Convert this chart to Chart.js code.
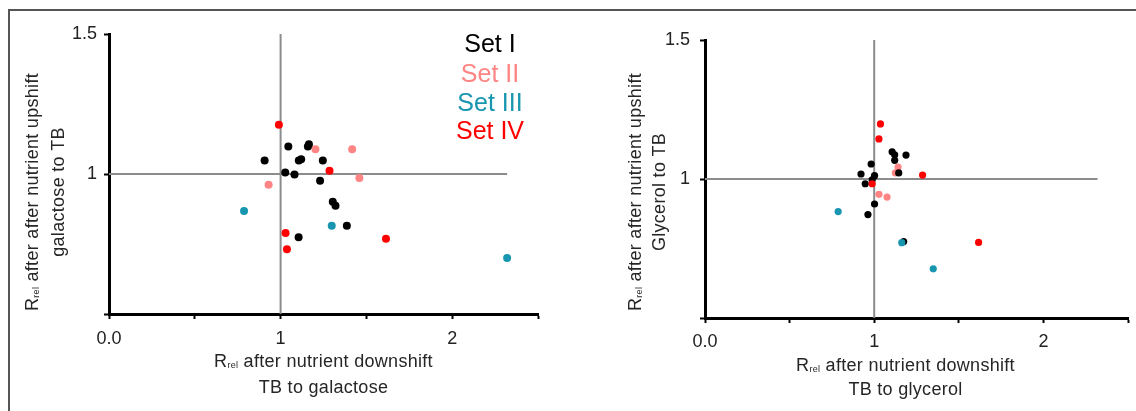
<!DOCTYPE html>
<html lang="en"><head>
<meta charset="utf-8">
<title>Rrel after nutrient shifts</title>
<style>
* { margin: 0; padding: 0 }
body { background: #fff; width: 1136px; height: 411px; overflow: hidden; position: relative; }
#Frame { position: absolute; left: 8px; top: 9px; width: 1140px; height: 410px; border-top: 2px solid #555; border-left: 2px solid #555; }
#GalChart { position: absolute; left: 0; top: 0; }
#GlyChart { position: absolute; left: 570px; top: 0; }
</style>
<script src="https://cdn.jsdelivr.net/npm/chart.js"></script>
<script>

const FONT = "'Liberation Sans', Arial, sans-serif";

const SET_NAMES = ["Set I", "Set II", "Set III", "Set IV"];
const SET_COLORS = ["#000000", "#ff8585", "#1896b0", "#ff0000"];
// draw order, lower is on top
const SET_ORDER = [3, 4, 1, 2];

const xTickValues = [0, 1, 2];
const xTickLabels = ["0.0", "1", "2"];
const yTickValues = [1, 1.5];
const yTickLabels = ["1", "1.5"];

// gray guide lines through 1 on each axis
const GUIDE_VALUE = 1;
const GUIDE_X_END = 2.32;

// TB <-> galactose
const galSetI_x   = [1.045, 1.165, 1.159, 0.907, 1.106, 1.12, 1.246, 1.027, 1.081, 1.23, 1.304, 1.32, 1.386, 1.105];
const galSetI_y   = [1.098, 1.106, 1.098, 1.048, 1.048, 1.053, 1.048, 1.005, 0.998, 0.976, 0.901, 0.887, 0.815, 0.774];
const galSetII_x  = [1.203, 1.417, 1.459, 0.93];
const galSetII_y  = [1.088, 1.088, 0.986, 0.962];
const galSetIII_x = [1.298, 0.787, 2.32];
const galSetIII_y = [0.815, 0.868, 0.70];
const galSetIV_x  = [0.99, 1.285, 1.029, 1.037, 1.614];
const galSetIV_y  = [1.176, 1.012, 0.789, 0.731, 0.769];

// TB <-> glycerol
const glySetI_x   = [1.106, 1.121, 1.121, 1.188, 0.982, 1.145, 0.922, 1.002, 0.988, 0.947, 1.002, 0.963, 1.174];
const glySetI_y   = [1.098, 1.087, 1.067, 1.086, 1.054, 1.022, 1.018, 1.012, 0.997, 0.983, 0.910, 0.872, 0.775];
const glySetII_x  = [1.141, 1.125, 1.028, 1.076];
const glySetII_y  = [1.043, 1.022, 0.945, 0.935];
const glySetIII_x = [0.787, 1.163, 1.349];
const glySetIII_y = [0.883, 0.771, 0.677];
const glySetIV_x  = [1.037, 1.028, 1.286, 0.988, 1.617];
const glySetIV_y  = [1.198, 1.144, 1.014, 0.983, 0.772];

const galXTitle = ["after nutrient downshift", "TB to galactose"];
const galYTitle = ["after after nutrient upshift", "galactose to TB"];
const glyXTitle = ["after nutrient downshift", "TB to glycerol"];
const glyYTitle = ["after after nutrient upshift", "Glycerol to TB"];


function get(id) {
    return document.getElementById(id);
}

function points(xs, ys) {
    return xs.map((x, i) => ({x: x, y: ys[i]}));
}

function tickLabel(val, values, labels) {
    const i = values.indexOf(val);
    return i < 0 ? "" : labels[i];
}

// one title line, centered on x; first line starts with R + subscript "rel"
function drawTitleLine(ctx, text, withRel, x, y) {
    const big = "18px " + FONT;
    const small = "9px " + FONT;
    ctx.letterSpacing = "0.3px";
    ctx.font = big;
    const head = withRel ? "R" : "";
    const rest = withRel ? " " + text : text;
    const wHead = ctx.measureText(head).width;
    const wRest = ctx.measureText(rest).width;
    ctx.font = small;
    const wSub = withRel ? ctx.measureText("rel").width : 0;
    let left = x - (wHead + wSub + wRest) / 2;
    ctx.textAlign = "left";
    if (withRel) {
        ctx.font = big;
        ctx.fillText(head, left, y);
        left += wHead;
        ctx.font = small;
        ctx.fillText("rel", left, y + 1);
        left += wSub;
    }
    ctx.font = big;
    ctx.fillText(rest, left, y);
    ctx.letterSpacing = "0px";
}

const axisTitlePlugin = {
    id: "axisTitles",
    afterDraw(chart, args, opts) {
        const ctx = chart.ctx;
        const area = chart.chartArea;
        ctx.save();
        ctx.fillStyle = "#262626";
        ctx.textBaseline = "alphabetic";
        const cx = (area.left + area.right) / 2 + opts.xShift;
        for (let i = 0; i < opts.xLines.length; i++) {
            drawTitleLine(ctx, opts.xLines[i], i == 0, cx, area.bottom + opts.xBaselines[i]);
        }
        for (let i = 0; i < opts.yLines.length; i++) {
            ctx.save();
            ctx.translate(area.left + opts.yBaselines[i], area.bottom + opts.yCenter);
            ctx.rotate(-Math.PI / 2);
            drawTitleLine(ctx, opts.yLines[i], i == 0, 0, 0);
            ctx.restore();
        }
        ctx.restore();
    }
};

// the "Set I .. Set IV" text key in the top right of the first chart
const setKeyPlugin = {
    id: "setKey",
    afterDraw(chart, args, opts) {
        if (!opts.show) return;
        const ctx = chart.ctx;
        const area = chart.chartArea;
        ctx.save();
        ctx.font = "25px " + FONT;
        ctx.textAlign = "center";
        ctx.textBaseline = "alphabetic";
        for (let i = 0; i < SET_NAMES.length; i++) {
            ctx.fillStyle = SET_COLORS[i];
            ctx.fillText(SET_NAMES[i], area.left + opts.cx, area.top + opts.baselines[i]);
        }
        ctx.restore();
    }
};

function makeDatasets(sets, radius) {
    let ds = [];
    for (let i = 0; i < sets.length; i++) {
        ds.push({
            label: SET_NAMES[i],
            data: points(sets[i][0], sets[i][1]),
            backgroundColor: SET_COLORS[i],
            borderColor: SET_COLORS[i],
            pointRadius: radius,
            pointBorderWidth: 0,
            order: SET_ORDER[i],
        });
    }
    const guide = {
        showLine: true,
        pointRadius: 0,
        borderColor: "#8c8c8c",
        borderWidth: 2,
        order: 10,
    };
    ds.push(Object.assign({label: "v", data: [{x: GUIDE_VALUE, y: 0.5}, {x: GUIDE_VALUE, y: 1.5}]}, guide));
    ds.push(Object.assign({label: "h", data: [{x: 0, y: GUIDE_VALUE}, {x: GUIDE_X_END, y: GUIDE_VALUE}]}, guide));
    return ds;
}

function makeChart(canvas, sets, cfg) {
    const tickFont = {family: FONT, size: 18};
    return new Chart(canvas, {
        type: "scatter",
        data: { datasets: makeDatasets(sets, cfg.radius) },
        options: {
            responsive: false,
            animation: false,
            events: [],
            layout: { autoPadding: false, padding: cfg.padding },
            plugins: {
                legend: { display: false },
                tooltip: { enabled: false },
                axisTitles: cfg.titles,
                setKey: cfg.key,
            },
            scales: {
                x: {
                    type: "linear",
                    min: 0, max: 2.5,
                    border: { color: "#000", width: 3 },
                    grid: { drawOnChartArea: false, drawTicks: true, tickLength: 5, tickWidth: 2, tickColor: "#000" },
                    ticks: {
                        stepSize: 0.5, autoSkip: false, maxRotation: 0,
                        padding: cfg.xPad, color: "#222", font: tickFont,
                        callback: v => tickLabel(v, xTickValues, xTickLabels),
                    },
                    afterFit: s => { s.height = cfg.xHeight; },
                },
                y: {
                    type: "linear",
                    min: 0.5, max: 1.5,
                    border: { color: "#000", width: 3 },
                    grid: { drawOnChartArea: false, drawTicks: true, tickLength: 5, tickWidth: 2, tickColor: "#000" },
                    ticks: {
                        stepSize: 0.5, autoSkip: false,
                        padding: cfg.yPad, color: "#222", font: tickFont,
                        callback: v => tickLabel(v, yTickValues, yTickLabels),
                    },
                    afterFit: s => { s.width = cfg.yWidth; },
                },
            },
        },
        plugins: [axisTitlePlugin, setKeyPlugin],
    });
}

function bodyOnLoad() {
    makeChart(get("GalChart"), [
        [galSetI_x, galSetI_y], [galSetII_x, galSetII_y],
        [galSetIII_x, galSetIII_y], [galSetIV_x, galSetIV_y],
    ], {
        radius: 4,
        padding: {top: 34, right: 32, bottom: 0, left: 0},
        yWidth: 109, xHeight: 97, xPad: 9, yPad: 7,
        titles: { xLines: galXTitle, xShift: 0, xBaselines: [53, 79],
                  yLines: galYTitle, yCenter: -122, yBaselines: [-71, -45.5] },
        key: { show: true, cx: 381, baselines: [18, 48, 77, 105] },
    });
    makeChart(get("GlyChart"), [
        [glySetI_x, glySetI_y], [glySetII_x, glySetII_y],
        [glySetIII_x, glySetIII_y], [glySetIV_x, glySetIV_y],
    ], {
        radius: 3.6,
        padding: {top: 40, right: 5, bottom: 0, left: 0},
        yWidth: 135, xHeight: 93, xPad: 8, yPad: 10,
        titles: { xLines: glyXTitle, xShift: -11, xBaselines: [53, 77],
                  yLines: glyYTitle, yCenter: -126, yBaselines: [-64, -40.5] },
        key: { show: false },
    });
}

</script>
</head><body onload="bodyOnLoad()">
<div id="Frame"></div>
<canvas id="GalChart" width="570" height="411"></canvas>
<canvas id="GlyChart" width="566" height="411"></canvas>
</body></html>
